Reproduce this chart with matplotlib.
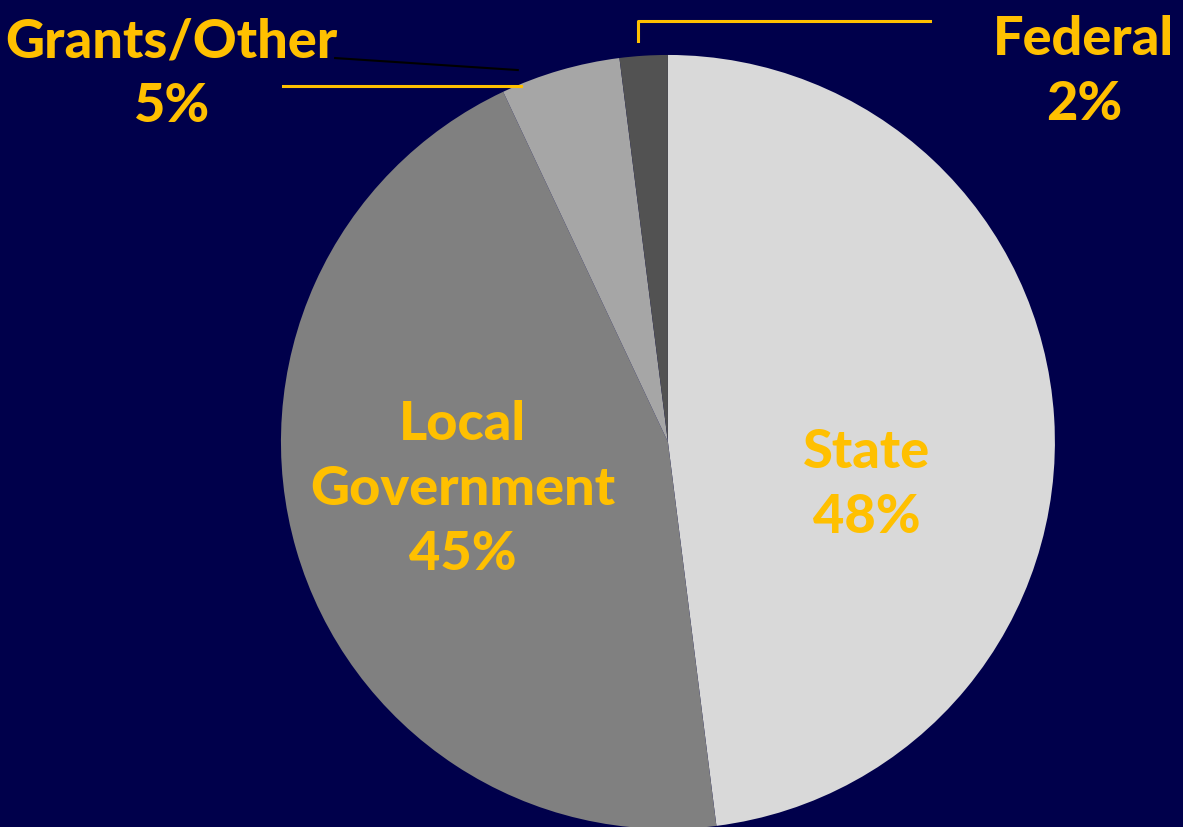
import matplotlib
matplotlib.use("Agg")
import matplotlib.pyplot as plt

labels = ["State", "Local\nGovernment", "Grants/Other", "Federal"]
shares = [48, 45, 5, 2]
colors = ["#D9D9D9", "#808080", "#A6A6A6", "#525252"]

bg = "#00004B"
gold = "#FFC000"

fig = plt.figure(figsize=(11.83, 8.27), dpi=100, facecolor=bg)
ax = fig.add_axes([0, 0, 1, 1])
ax.set_facecolor(bg)

ax.pie(shares, colors=colors, startangle=90, counterclock=False,
       radius=1.0, center=(0, 0), wedgeprops=dict(linewidth=0))
ax.set_aspect("auto")
ax.set_xlim(-1.726, 1.331)
ax.set_ylim(-0.995, 1.142)
ax.axis("off")

font = dict(color=gold, fontsize=39, fontweight="black", family="Lato",
            ha="center", va="center", linespacing=1.4)

# labels inside the two big slices
ax.text(0.514, -0.111, f"{labels[0]}\n{shares[0]}%", **font)
ax.text(-0.530, -0.124, f"{labels[1]}\n{shares[1]}%", **font)

# outside labels for the small slices
ax.text(-1.282, 0.950, f"{labels[2]}\n{shares[2]}%", **font)
ax.text(1.075, 0.955, f"{labels[3]}\n{shares[3]}%", **font)

# leader lines
ax.plot([0.677, -0.0775, -0.0775], [1.088, 1.088, 1.036], color=gold, lw=2.2,
        clip_on=False)
ax.plot([-0.995, -0.380], [0.920, 0.920], color=gold, lw=2.2)
ax.plot([-0.860, -0.388], [0.992, 0.961], color="black", lw=1.5)

fig.savefig("out.png", dpi=100, facecolor=bg)
